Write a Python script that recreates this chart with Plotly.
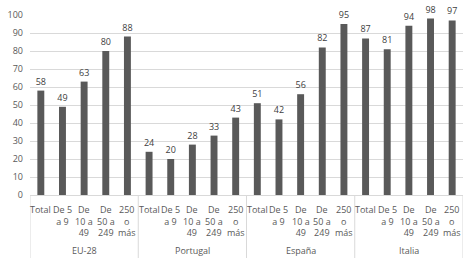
import plotly.graph_objects as go

groups = ["EU-28", "Portugal", "España", "Italia"]
sizes = ["Total", "De 5<br>a 9", "De<br>10 a<br>49", "De<br>50 a<br>249", "250<br>o<br>más"]
eu28 = [58, 49, 63, 80, 88]
portugal = [24, 20, 28, 33, 43]
espana = [51, 42, 56, 82, 95]
italia = [87, 81, 94, 98, 97]
y_ticks = list(range(0, 101, 10))

values = eu28 + portugal + espana + italia
n = len(sizes)
xs = list(range(len(values)))

fig = go.Figure(go.Bar(
    x=xs, y=values, width=0.32,
    marker=dict(color="#595959", line=dict(width=0)),
    text=[str(v) for v in values], textposition="outside",
    constraintext="none",
    textfont=dict(family="Open Sans", size=9, color="#404040"),
    cliponaxis=False, hoverinfo="skip",
))

annotations = []
for gi, g in enumerate(groups):
    for si, s in enumerate(sizes):
        annotations.append(dict(
            x=gi * n + si, y=0, xref="x", yref="paper", text=s,
            showarrow=False, yanchor="top", yshift=-6, align="center",
            font=dict(family="Open Sans", size=9, color="#595959"),
        ))
    annotations.append(dict(
        x=gi * n + (n - 1) / 2, y=0, xref="x", yref="paper", text=g,
        showarrow=False, yanchor="middle", yshift=-55,
        font=dict(family="Open Sans", size=9, color="#595959"),
    ))

shapes = []
for b in range(len(groups) + 1):
    shapes.append(dict(
        type="line", xref="x", yref="paper", x0=b * n - 0.5, x1=b * n - 0.5,
        y0=0, y1=-0.35, line=dict(color="#d9d9d9", width=1),
    ))

fig.update_layout(
    width=471, height=259,
    margin=dict(l=30, r=8, t=10, b=64),
    paper_bgcolor="white", plot_bgcolor="white",
    showlegend=False,
    annotations=annotations, shapes=shapes,
    xaxis=dict(range=[-0.5, len(values) - 0.5], showticklabels=False,
               showgrid=False, zeroline=False, showline=True,
               linecolor="#d9d9d9", linewidth=1, ticks=""),
    yaxis=dict(range=[0, 100], tickvals=y_ticks, showgrid=True,
               gridcolor="#d9d9d9", gridwidth=1, zeroline=False,
               showline=False, ticks="", ticklabelstandoff=6,
               tickfont=dict(family="Open Sans", size=9, color="#595959")),
)

fig.write_html("out.html", config={"displayModeBar": False},
               post_script="document.body.style.margin='0';document.body.style.overflow='hidden';")
